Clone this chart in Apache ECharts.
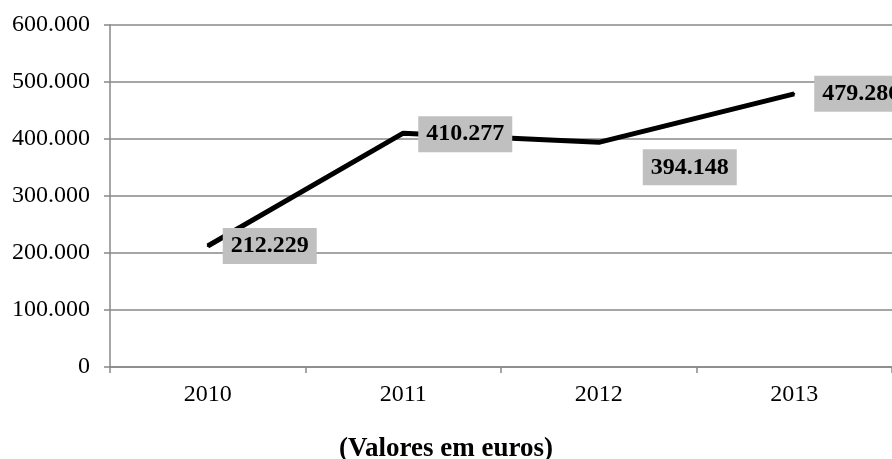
<!DOCTYPE html>
<html>
<head>
<meta charset="utf-8">
<script src="https://cdn.jsdelivr.net/npm/echarts@6/dist/echarts.min.js"></script>
<style>
  html, body { margin: 0; padding: 0; background: #fff; }
  #chart { width: 892px; height: 459px; }
</style>
</head>
<body>
<div id="chart"></div>
<script>
// dados do gráfico
var anos = ['2010', '2011', '2012', '2013'];
var valores = [212229, 410277, 394148, 479286];
var serif = "'Liberation Serif', 'Times New Roman', serif";

// 212229 -> "212.229"
function fmt(v) {
  return String(v).replace(/\B(?=(\d{3})+(?!\d))/g, '.');
}

var chart = echarts.init(document.getElementById('chart'));

// ajustes de posição dos rótulos (2012 desce, 2013 afasta-se um pouco)
var offsets = [[2, 0], [2, 1], [31, 25], [7, 0]];

var dados = valores.map(function (v, i) {
  return { value: v, label: { offset: offsets[i] } };
});

chart.setOption({
  animation: false,
  title: {
    text: '(Valores em euros)',
    left: 'center',
    top: 431,
    textStyle: { fontFamily: serif, fontWeight: 'bold', fontSize: 27, color: '#000' }
  },
  grid: { left: 110, top: 25, width: 788, bottom: 92 },
  xAxis: {
    type: 'category',
    data: anos,
    boundaryGap: true,
    axisLine: { lineStyle: { color: '#888', width: 1.5 } },
    axisTick: { show: true, length: 6, lineStyle: { color: '#888', width: 1.5 } },
    axisLabel: { fontFamily: serif, fontSize: 24, color: '#000', margin: 16 }
  },
  yAxis: {
    type: 'value',
    min: 0,
    max: 600000,
    interval: 100000,
    axisLine: { show: true, lineStyle: { color: '#888', width: 1.5 } },
    axisTick: { show: true, length: 6, lineStyle: { color: '#888', width: 1.5 } },
    splitLine: { lineStyle: { color: '#888', width: 1.5 } },
    axisLabel: {
      fontFamily: serif, fontSize: 24, color: '#000', margin: 20,
      formatter: function (v) { return fmt(v); }
    }
  },
  series: [{
    type: 'line',
    data: dados,
    showSymbol: true,
    symbol: 'circle',
    symbolSize: 2,
    itemStyle: { color: '#000' },
    lineStyle: { color: '#000', width: 5 },
    label: {
      show: true,
      position: 'right',
      distance: 12,
      fontFamily: serif,
      fontWeight: 'bold',
      fontSize: 24,
      lineHeight: 24,
      color: '#000',
      backgroundColor: '#c0c0c0',
      padding: [6, 8, 6, 8],
      formatter: function (p) { return fmt(p.value); }
    }
  }]
});
</script>
</body>
</html>
